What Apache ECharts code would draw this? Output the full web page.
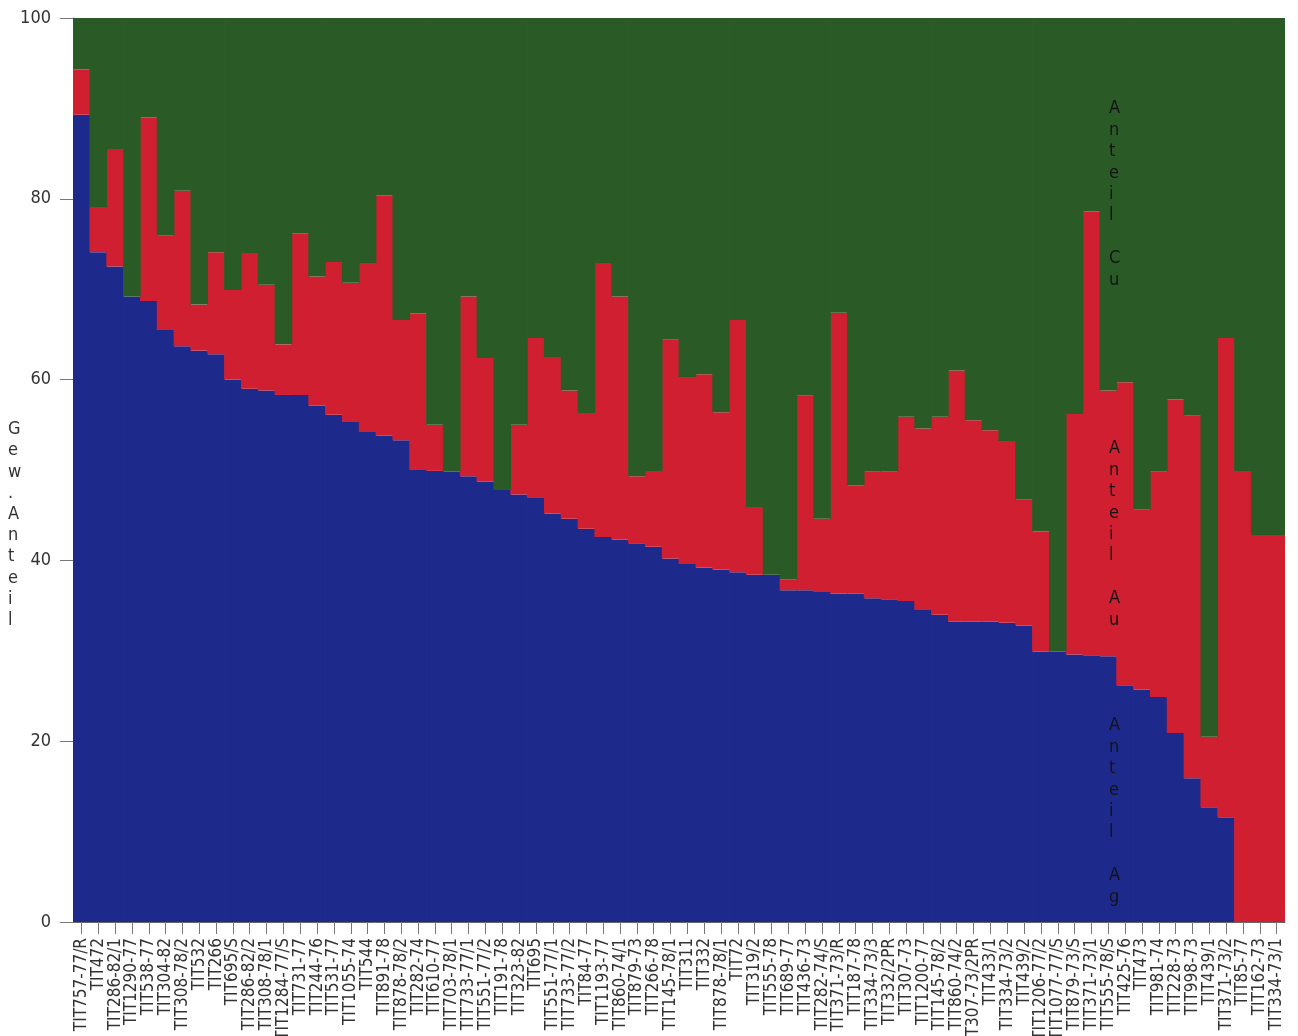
<!DOCTYPE html>
<html>
<head>
<meta charset="utf-8">
<script src="https://cdn.jsdelivr.net/npm/echarts@6/dist/echarts.min.js"></script>
<style>
  html, body { margin: 0; padding: 0; background: #ffffff; }
  #chart { width: 1298px; height: 1036px; }
</style>
</head>
<body>
<div id="chart"></div>
<script>
// Sample identifiers (x-axis categories)
const samples = [
  'TIT757-77/R', 'TIT472', 'TIT286-82/1', 'TIT1290-77', 'TIT538-77', 'TIT304-82',
  'TIT308-78/2', 'TIT532', 'TIT266', 'TIT695/S', 'TIT286-82/2', 'TIT308-78/1',
  'TIT1284-77/S', 'TIT731-77', 'TIT244-76', 'TIT531-77', 'TIT1055-74', 'TIT544',
  'TIT891-78', 'TIT878-78/2', 'TIT282-74', 'TIT610-77', 'TIT703-78/1', 'TIT733-77/1',
  'TIT551-77/2', 'TIT191-78', 'TIT323-82', 'TIT695', 'TIT551-77/1', 'TIT733-77/2',
  'TIT84-77', 'TIT1193-77', 'TIT860-74/1', 'TIT879-73', 'TIT266-78', 'TIT145-78/1',
  'TIT311', 'TIT332', 'TIT878-78/1', 'TIT72', 'TIT319/2', 'TIT555-78',
  'TIT689-77', 'TIT436-73', 'TIT282-74/S', 'TIT371-73/R', 'TIT187-78', 'TIT334-73/3',
  'TIT332/2PR', 'TIT307-73', 'TIT1200-77', 'TIT145-78/2', 'TIT860-74/2', 'TIT307-73/2PR',
  'TIT433/1', 'TIT334-73/2', 'TIT439/2', 'TIT1206-77/2', 'TIT1077-77/S', 'TIT879-73/S',
  'TIT371-73/1', 'TIT555-78/S', 'TIT425-76', 'TIT473', 'TIT981-74', 'TIT228-73',
  'TIT998-73', 'TIT439/1', 'TIT371-73/2', 'TIT85-77', 'TIT162-73', 'TIT334-73/1'
];

// Silver share (Gew.-%)
const anteilAg = [
  89.3, 74.1, 72.5, 69.2, 68.7, 65.5, 63.7, 63.2, 62.8, 60.0, 59.0, 58.8,
  58.3, 58.3, 57.1, 56.1, 55.3, 54.2, 53.8, 53.3, 50.0, 49.9, 49.8, 49.3,
  48.7, 47.8, 47.3, 46.9, 45.2, 44.6, 43.5, 42.6, 42.3, 41.9, 41.5, 40.2,
  39.6, 39.2, 39.0, 38.7, 38.4, 38.4, 36.7, 36.7, 36.5, 36.3, 36.3, 35.8,
  35.7, 35.5, 34.5, 34.0, 33.2, 33.2, 33.2, 33.1, 32.8, 29.9, 29.9, 29.6,
  29.5, 29.4, 26.2, 25.7, 24.9, 20.9, 15.9, 12.7, 11.6, 0, 0, 0
];

// Gold share (Gew.-%)
const anteilAu = [
  5.0, 5.0, 13.0, 0, 20.3, 10.4, 17.2, 5.1, 11.3, 9.9, 15.0, 11.7,
  5.6, 17.9, 14.3, 16.9, 15.4, 18.7, 26.6, 13.3, 17.3, 5.1, 0, 19.9,
  13.7, 0, 7.7, 17.7, 17.3, 14.2, 12.8, 30.3, 26.9, 7.4, 8.4, 24.2,
  20.7, 21.4, 17.4, 27.9, 7.5, 0, 1.2, 21.5, 8.1, 31.1, 12.0, 14.0,
  14.1, 20.4, 20.1, 21.9, 27.8, 22.3, 21.2, 20.1, 13.9, 13.3, 0, 26.6,
  49.1, 29.4, 33.5, 19.9, 24.9, 36.9, 40.1, 7.8, 53.0, 49.9, 42.8, 42.8
];

// Copper share (Gew.-%)
const anteilCu = [
  5.7, 20.9, 14.5, 30.8, 11.0, 24.1, 19.1, 31.7, 25.9, 30.1, 26.0, 29.5,
  36.1, 23.8, 28.6, 27.0, 29.3, 27.1, 19.6, 33.4, 32.7, 45.0, 50.2, 30.8,
  37.6, 52.2, 45.0, 35.4, 37.5, 41.2, 43.7, 27.1, 30.8, 50.7, 50.1, 35.6,
  39.7, 39.4, 43.6, 33.4, 54.1, 61.6, 62.1, 41.8, 55.4, 32.6, 51.7, 50.2,
  50.2, 44.1, 45.4, 44.1, 39.0, 44.5, 45.6, 46.8, 53.3, 56.8, 70.1, 43.8,
  21.4, 41.2, 40.3, 54.4, 50.2, 42.2, 44.0, 79.5, 35.4, 50.1, 57.2, 57.2
];

const yTicks = [0, 20, 40, 60, 80, 100];

const COLOR_AG = '#1d2a8c';
const COLOR_AU = '#d01f31';
const COLOR_CU = '#2a5b27';
const TEXT_FONT = "'DejaVu Sans Condensed', 'Liberation Sans Narrow', 'DejaVu Sans', sans-serif";

const chart = echarts.init(document.getElementById('chart'), null, { renderer: 'canvas' });

// one character per line, for the upright vertical captions
function stacked(text) {
  return text.split('').join('\n');
}

const barSeries = (name, data, color) => ({
  name: name,
  type: 'bar',
  stack: 'anteil',
  data: data,
  // slightly wider than the band so neighbouring columns close up without seams
  barWidth: 17.6,
  itemStyle: { color: color },
  emphasis: { disabled: true },
  animation: false
});

const caption = (text, top) => ({
  type: 'text',
  left: 1109,
  top: top,
  z: 100,
  zlevel: 1,
  style: {
    text: stacked(text),
    font: '18px ' + TEXT_FONT,
    fill: '#141414',
    lineHeight: 21.4,
    align: 'center'
  }
});

chart.setOption({
  backgroundColor: '#ffffff',
  animation: false,
  grid: { left: 73, right: 13, top: 18, bottom: 114, containLabel: false, outerBoundsMode: 'none' },
  xAxis: {
    type: 'category',
    data: samples,
    boundaryGap: true,
    axisLine: { show: true, lineStyle: { color: '#666', width: 1 } },
    axisTick: { show: true, alignWithLabel: true, length: 12, lineStyle: { color: '#777' } },
    axisLabel: {
      interval: 0,
      rotate: 90,
      margin: 16,
      color: '#333',
      fontSize: 17,
      fontFamily: TEXT_FONT
    }
  },
  yAxis: {
    type: 'value',
    min: 0,
    max: 100,
    interval: 20,
    splitLine: { show: false },
    axisLine: { show: true, lineStyle: { color: '#666', width: 1 } },
    axisTick: { show: true, length: 13, lineStyle: { color: '#777' } },
    axisLabel: {
      color: '#333',
      fontSize: 18,
      margin: 22,
      fontFamily: TEXT_FONT,
      formatter: v => (yTicks.includes(v) ? String(v) : '')
    }
  },
  series: [
    barSeries('Anteil Ag', anteilAg, COLOR_AG),
    barSeries('Anteil Au', anteilAu, COLOR_AU),
    barSeries('Anteil Cu', anteilCu, COLOR_CU)
  ],
  graphic: [
    {
      type: 'text', left: 8, top: 419,
      style: { text: stacked('Gew.Anteil'), font: '18px ' + TEXT_FONT, fill: '#333', lineHeight: 21.2, align: 'center' }
    },
    caption('Anteil Cu', 98),
    caption('Anteil Au', 438),
    caption('Anteil Ag', 715)
  ]
});
</script>
</body>
</html>
